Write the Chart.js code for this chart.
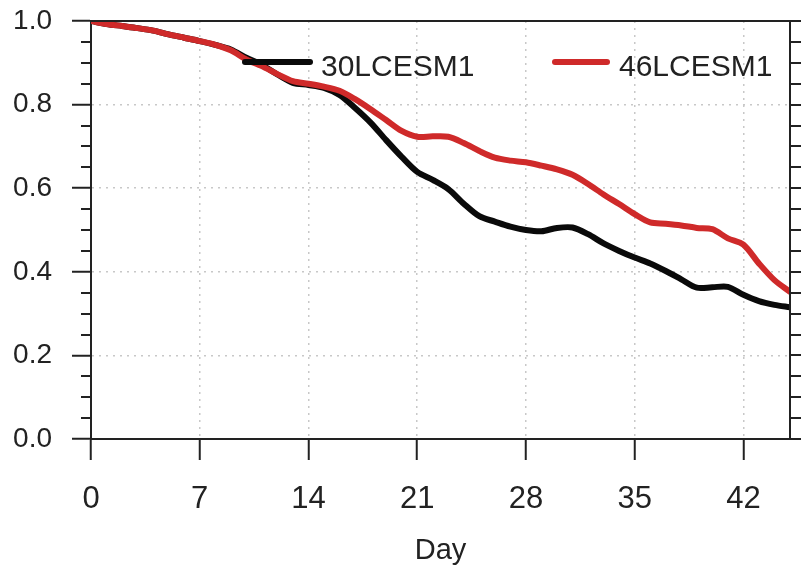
<!DOCTYPE html>
<html lang="en">
  <head>
    <meta charset="UTF-8" />
    <title>30LCESM1 vs 46LCESM1</title>
    <style>
      html,
      body {
        margin: 0;
        padding: 0;
        background: #fff;
      }
      #wrap {
        width: 801px;
        height: 566px;
      }
    </style>
  </head>

  <body>
    <div id="wrap"><canvas id="myChart" width="801" height="566"></canvas></div>

    <script src="https://cdn.jsdelivr.net/npm/chart.js"></script>
    <script>
      // forecast day
      const days = [
        0, 1, 2, 3, 4, 5, 6, 7, 8, 9, 10, 11, 12, 13, 14, 15, 16, 17, 18, 19, 20, 21, 22,
        23, 24, 25, 26, 27, 28, 29, 30, 31, 32, 33, 34, 35, 36, 37, 38, 39, 40, 41, 42,
        43, 44, 45,
      ];
      const seriesNames = ["30LCESM1", "46LCESM1"];
      const lcesm30 = [
        1.0, 0.993, 0.988, 0.983, 0.977, 0.968, 0.96, 0.952, 0.943, 0.932, 0.912, 0.895,
        0.872, 0.852, 0.847, 0.84, 0.823, 0.792, 0.757, 0.715, 0.675, 0.639, 0.62, 0.598,
        0.563, 0.533, 0.52, 0.508, 0.5, 0.497, 0.505, 0.506, 0.49, 0.468, 0.45, 0.434,
        0.42, 0.402, 0.382, 0.362, 0.363, 0.364, 0.345, 0.33, 0.321, 0.315,
      ];
      const lcesm46 = [
        1.0, 0.993, 0.988, 0.983, 0.977, 0.968, 0.96, 0.952, 0.943, 0.93, 0.908, 0.892,
        0.873, 0.856, 0.85, 0.843, 0.833, 0.813, 0.789, 0.763, 0.737, 0.723, 0.724, 0.723,
        0.708, 0.689, 0.673, 0.666, 0.662, 0.654, 0.645, 0.632, 0.61, 0.585, 0.562, 0.538,
        0.518, 0.515, 0.511, 0.505, 0.502, 0.48, 0.465, 0.42, 0.38, 0.352,
      ];
      const xTicks = [0, 7, 14, 21, 28, 35, 42];

      const FONT = "'Liberation Sans', Arial, Helvetica, sans-serif";
      const AXIS = "#222";

      // top/right frame, right-hand ticks and minor ticks on y
      const framePlugin = {
        id: "frame",
        afterDraw(chart) {
          const { ctx, chartArea: a } = chart;
          const y = chart.scales.y;
          ctx.save();
          ctx.strokeStyle = AXIS;
          ctx.lineWidth = 2;
          ctx.beginPath();
          ctx.moveTo(a.left, a.top);
          ctx.lineTo(a.right, a.top);
          ctx.lineTo(a.right, a.bottom);
          ctx.stroke();
          ctx.beginPath();
          for (let k = 0; k <= 20; k++) {
            const py = Math.round(y.getPixelForValue(k * 0.05));
            if (k % 4 !== 0) {
              ctx.moveTo(a.left - 10, py);
              ctx.lineTo(a.left, py);
            }
            ctx.moveTo(a.right, py);
            ctx.lineTo(a.right + 11, py);
          }
          ctx.stroke();
          ctx.restore();
        },
      };

      // legend sitting inside the plot, like the original figure
      const legendPlugin = {
        id: "inLegend",
        afterDatasetsDraw(chart) {
          const { ctx } = chart;
          const spots = [
            { x0: 245, x1: 310, tx: 321 },
            { x0: 555, x1: 607, tx: 619 },
          ];
          ctx.save();
          chart.data.datasets.forEach((ds, i) => {
            const s = spots[i];
            ctx.strokeStyle = ds.borderColor;
            ctx.lineWidth = 6;
            ctx.lineCap = "round";
            ctx.beginPath();
            ctx.moveTo(s.x0, 62);
            ctx.lineTo(s.x1, 62);
            ctx.stroke();
            ctx.fillStyle = AXIS;
            ctx.font = "30px " + FONT;
            ctx.textBaseline = "alphabetic";
            ctx.fillText(ds.label, s.tx, 76);
          });
          ctx.restore();
        },
      };

      const ctx = document.getElementById("myChart").getContext("2d");
      const myChart = new Chart(ctx, {
        type: "line",
        data: {
          datasets: [
            {
              label: seriesNames[0],
              data: days.map((d, i) => ({ x: d, y: lcesm30[i] })),
              borderColor: "#0a0a0a",
              order: 2,
            },
            {
              label: seriesNames[1],
              data: days.map((d, i) => ({ x: d, y: lcesm46[i] })),
              borderColor: "#cf2a2a",
              order: 1,
            },
          ],
        },
        options: {
          responsive: false,
          animation: false,
          layout: { padding: { top: 21, right: 11, left: 0, bottom: 0 } },
          elements: {
            point: { radius: 0 },
            line: {
              borderWidth: 6,
              tension: 0.3,
              borderCapStyle: "round",
              borderJoinStyle: "round",
            },
          },
          plugins: {
            legend: { display: false },
            tooltip: { enabled: false },
          },
          scales: {
            x: {
              type: "linear",
              min: 0,
              max: 45,
              afterFit: (s) => {
                s.height = 127;
              },
              afterBuildTicks: (s) => {
                s.ticks = xTicks.map((v) => ({ value: v }));
              },
              grid: {
                color: "#c8c8c8",
                lineWidth: 1.5,
                tickLength: 21,
                tickColor: AXIS,
                tickWidth: 2,
              },
              border: { color: AXIS, width: 2, dash: [2, 5] },
              ticks: {
                color: AXIS,
                font: { family: FONT, size: 31 },
                padding: 21,
                maxRotation: 0,
                autoSkip: false,
              },
              title: {
                display: true,
                text: "Day",
                color: AXIS,
                font: { family: FONT, size: 29 },
                padding: { top: 0, bottom: -2 },
              },
            },
            y: {
              min: 0,
              max: 1,
              afterFit: (s) => {
                s.width = 91;
                s.paddingTop = 0;
                s.paddingBottom = 0;
              },
              grid: {
                color: "#c8c8c8",
                lineWidth: 1.5,
                tickLength: 19,
                tickColor: AXIS,
                tickWidth: 2,
              },
              border: { color: AXIS, width: 2, dash: [2, 5] },
              ticks: {
                stepSize: 0.2,
                color: AXIS,
                font: { family: FONT, size: 28 },
                padding: 20,
                callback: (v) => v.toFixed(1),
              },
            },
          },
        },
        plugins: [framePlugin, legendPlugin],
      });
    </script>
  </body>
</html>
